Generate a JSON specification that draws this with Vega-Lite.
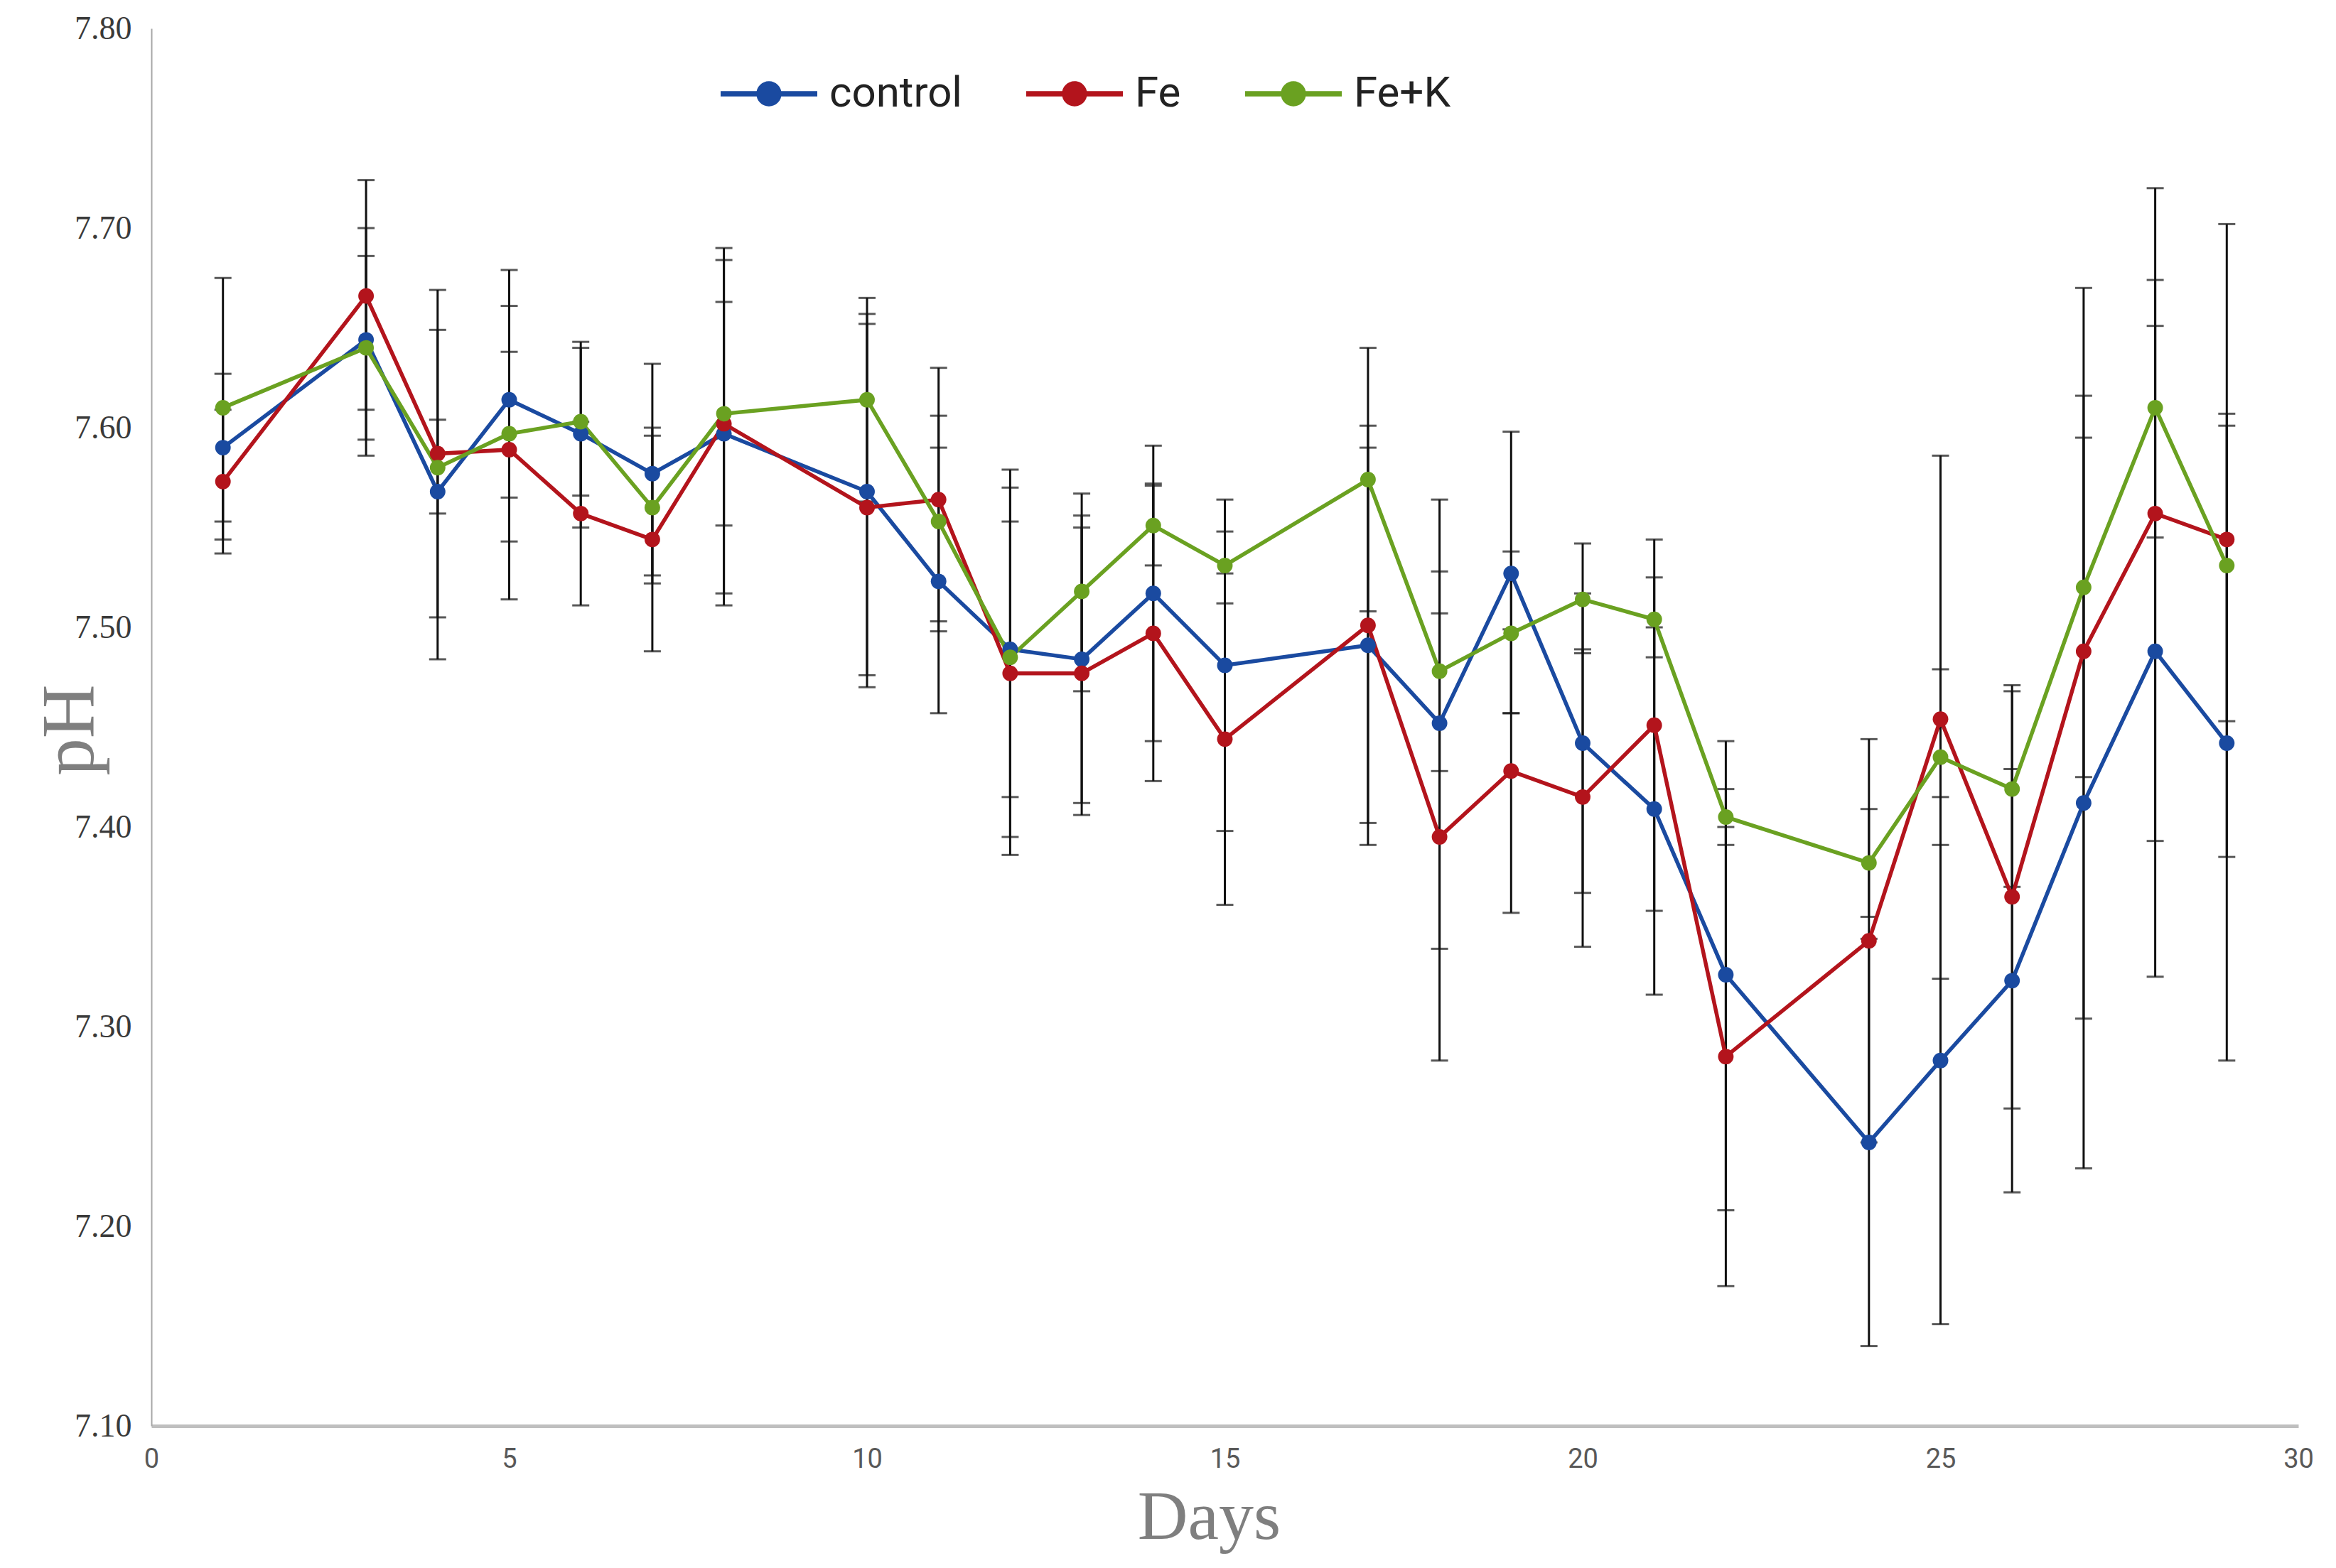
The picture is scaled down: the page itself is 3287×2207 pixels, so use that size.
{
  "$schema": "https://vega.github.io/schema/vega-lite/v6.json",
  "description": "pH over days for control, Fe and Fe+K treatments with error bars.",
  "width": 3021,
  "height": 1967,
  "autosize": {"type": "none"},
  "padding": {"left": 213, "top": 40, "right": 53, "bottom": 200},
  "background": "white",
  "config": {"view": {"stroke": null}},
  "data": {
    "values": [
      {"day": 1, "series": "control", "ph": 7.590, "lo": 7.553, "hi": 7.627},
      {"day": 3, "series": "control", "ph": 7.644, "lo": 7.586, "hi": 7.700},
      {"day": 4, "series": "control", "ph": 7.568, "lo": 7.484, "hi": 7.649},
      {"day": 5, "series": "control", "ph": 7.614, "lo": 7.543, "hi": 7.679},
      {"day": 6, "series": "control", "ph": 7.597, "lo": 7.550, "hi": 7.640},
      {"day": 7, "series": "control", "ph": 7.577, "lo": 7.522, "hi": 7.632},
      {"day": 8, "series": "control", "ph": 7.597, "lo": 7.517, "hi": 7.684},
      {"day": 10, "series": "control", "ph": 7.568, "lo": 7.476, "hi": 7.657},
      {"day": 11, "series": "control", "ph": 7.523, "lo": 7.457, "hi": 7.590},
      {"day": 12, "series": "control", "ph": 7.489, "lo": 7.395, "hi": 7.579},
      {"day": 13, "series": "control", "ph": 7.484, "lo": 7.412, "hi": 7.556},
      {"day": 14, "series": "control", "ph": 7.517, "lo": 7.443, "hi": 7.591},
      {"day": 15, "series": "control", "ph": 7.481, "lo": 7.398, "hi": 7.564},
      {"day": 17, "series": "control", "ph": 7.491, "lo": 7.391, "hi": 7.590},
      {"day": 18, "series": "control", "ph": 7.452, "lo": 7.339, "hi": 7.564},
      {"day": 19, "series": "control", "ph": 7.527, "lo": 7.457, "hi": 7.598},
      {"day": 20, "series": "control", "ph": 7.442, "lo": 7.367, "hi": 7.517},
      {"day": 21, "series": "control", "ph": 7.409, "lo": 7.316, "hi": 7.500},
      {"day": 22, "series": "control", "ph": 7.326, "lo": 7.208, "hi": 7.443},
      {"day": 24, "series": "control", "ph": 7.242, "lo": 7.140, "hi": 7.344},
      {"day": 25, "series": "control", "ph": 7.283, "lo": 7.151, "hi": 7.415},
      {"day": 26, "series": "control", "ph": 7.323, "lo": 7.217, "hi": 7.429},
      {"day": 27, "series": "control", "ph": 7.412, "lo": 7.229, "hi": 7.595},
      {"day": 28, "series": "control", "ph": 7.488, "lo": 7.325, "hi": 7.651},
      {"day": 29, "series": "control", "ph": 7.442, "lo": 7.283, "hi": 7.601},
      {"day": 1, "series": "Fe", "ph": 7.573, "lo": 7.537, "hi": 7.609},
      {"day": 3, "series": "Fe", "ph": 7.666, "lo": 7.609, "hi": 7.724},
      {"day": 4, "series": "Fe", "ph": 7.587, "lo": 7.505, "hi": 7.669},
      {"day": 5, "series": "Fe", "ph": 7.589, "lo": 7.514, "hi": 7.661},
      {"day": 6, "series": "Fe", "ph": 7.557, "lo": 7.511, "hi": 7.603},
      {"day": 7, "series": "Fe", "ph": 7.544, "lo": 7.488, "hi": 7.600},
      {"day": 8, "series": "Fe", "ph": 7.602, "lo": 7.511, "hi": 7.690},
      {"day": 10, "series": "Fe", "ph": 7.560, "lo": 7.470, "hi": 7.652},
      {"day": 11, "series": "Fe", "ph": 7.564, "lo": 7.498, "hi": 7.630},
      {"day": 12, "series": "Fe", "ph": 7.477, "lo": 7.386, "hi": 7.570},
      {"day": 13, "series": "Fe", "ph": 7.477, "lo": 7.406, "hi": 7.550},
      {"day": 14, "series": "Fe", "ph": 7.497, "lo": 7.423, "hi": 7.572},
      {"day": 15, "series": "Fe", "ph": 7.444, "lo": 7.361, "hi": 7.527},
      {"day": 17, "series": "Fe", "ph": 7.501, "lo": 7.402, "hi": 7.601},
      {"day": 18, "series": "Fe", "ph": 7.395, "lo": 7.283, "hi": 7.507},
      {"day": 19, "series": "Fe", "ph": 7.428, "lo": 7.357, "hi": 7.499},
      {"day": 20, "series": "Fe", "ph": 7.415, "lo": 7.340, "hi": 7.489},
      {"day": 21, "series": "Fe", "ph": 7.451, "lo": 7.358, "hi": 7.544},
      {"day": 22, "series": "Fe", "ph": 7.285, "lo": 7.170, "hi": 7.400},
      {"day": 24, "series": "Fe", "ph": 7.343, "lo": 7.242, "hi": 7.444},
      {"day": 25, "series": "Fe", "ph": 7.454, "lo": 7.324, "hi": 7.586},
      {"day": 26, "series": "Fe", "ph": 7.365, "lo": 7.259, "hi": 7.471},
      {"day": 27, "series": "Fe", "ph": 7.488, "lo": 7.304, "hi": 7.670},
      {"day": 28, "series": "Fe", "ph": 7.557, "lo": 7.393, "hi": 7.720},
      {"day": 29, "series": "Fe", "ph": 7.544, "lo": 7.385, "hi": 7.702},
      {"day": 1, "series": "Fe+K", "ph": 7.610, "lo": 7.544, "hi": 7.675},
      {"day": 3, "series": "Fe+K", "ph": 7.640, "lo": 7.594, "hi": 7.686},
      {"day": 4, "series": "Fe+K", "ph": 7.580, "lo": 7.557, "hi": 7.604},
      {"day": 5, "series": "Fe+K", "ph": 7.597, "lo": 7.565, "hi": 7.638},
      {"day": 6, "series": "Fe+K", "ph": 7.603, "lo": 7.566, "hi": 7.643},
      {"day": 7, "series": "Fe+K", "ph": 7.560, "lo": 7.526, "hi": 7.596},
      {"day": 8, "series": "Fe+K", "ph": 7.607, "lo": 7.551, "hi": 7.663},
      {"day": 10, "series": "Fe+K", "ph": 7.614, "lo": 7.563, "hi": 7.665},
      {"day": 11, "series": "Fe+K", "ph": 7.553, "lo": 7.503, "hi": 7.606},
      {"day": 12, "series": "Fe+K", "ph": 7.485, "lo": 7.415, "hi": 7.553},
      {"day": 13, "series": "Fe+K", "ph": 7.518, "lo": 7.468, "hi": 7.567},
      {"day": 14, "series": "Fe+K", "ph": 7.551, "lo": 7.531, "hi": 7.571},
      {"day": 15, "series": "Fe+K", "ph": 7.531, "lo": 7.512, "hi": 7.548},
      {"day": 17, "series": "Fe+K", "ph": 7.574, "lo": 7.508, "hi": 7.640},
      {"day": 18, "series": "Fe+K", "ph": 7.478, "lo": 7.428, "hi": 7.528},
      {"day": 19, "series": "Fe+K", "ph": 7.497, "lo": 7.457, "hi": 7.538},
      {"day": 20, "series": "Fe+K", "ph": 7.514, "lo": 7.487, "hi": 7.542},
      {"day": 21, "series": "Fe+K", "ph": 7.504, "lo": 7.485, "hi": 7.525},
      {"day": 22, "series": "Fe+K", "ph": 7.405, "lo": 7.391, "hi": 7.419},
      {"day": 24, "series": "Fe+K", "ph": 7.382, "lo": 7.355, "hi": 7.409},
      {"day": 25, "series": "Fe+K", "ph": 7.435, "lo": 7.391, "hi": 7.479},
      {"day": 26, "series": "Fe+K", "ph": 7.419, "lo": 7.370, "hi": 7.468},
      {"day": 27, "series": "Fe+K", "ph": 7.520, "lo": 7.425, "hi": 7.616},
      {"day": 28, "series": "Fe+K", "ph": 7.610, "lo": 7.545, "hi": 7.674},
      {"day": 29, "series": "Fe+K", "ph": 7.531, "lo": 7.453, "hi": 7.607}
    ]
  },
  "encoding": {
    "x": {
      "field": "day",
      "type": "quantitative",
      "scale": {"domain": [0, 30], "nice": false},
      "axis": {
        "title": "Days",
        "values": [0, 5, 10, 15, 20, 25, 30],
        "grid": false,
        "ticks": false,
        "domainColor": "#bfbfbf",
        "domainWidth": 5,
        "labelFont": "Roboto",
        "labelFontSize": 38,
        "labelColor": "#595959",
        "labelPadding": 28,
        "labelFlush": false,
        "labelOverlap": false,
        "titleFont": "Liberation Serif",
        "titleFontSize": 98,
        "titleFontWeight": "normal",
        "titleColor": "#7f7f7f",
        "titleBaseline": "alphabetic",
        "titleX": 1488,
        "titleY": 158
      }
    }
  },
  "layer": [
    {
      "mark": {
        "type": "errorbar",
        "color": "#111111",
        "rule": {"strokeWidth": 3},
        "ticks": {"size": 24, "thickness": 3}
      },
      "encoding": {
        "y": {
          "field": "lo",
          "type": "quantitative",
          "title": "pH",
          "scale": {"domain": [7.1, 7.8], "nice": false, "zero": false}
        },
        "y2": {"field": "hi"}
      }
    },
    {
      "mark": {
        "type": "line",
        "strokeWidth": 5.5,
        "point": {"filled": true, "size": 480, "opacity": 1}
      },
      "encoding": {
        "y": {
          "field": "ph",
          "type": "quantitative",
          "title": "pH",
          "scale": {"domain": [7.1, 7.8], "nice": false, "zero": false},
          "axis": {
            "values": [7.1, 7.2, 7.3, 7.4, 7.5, 7.6, 7.7, 7.8],
            "format": ".2f",
            "grid": false,
            "ticks": false,
            "domainColor": "#a6a6a6",
            "domainWidth": 2,
            "labelFont": "Liberation Serif",
            "labelFontSize": 46,
            "labelColor": "#3a3a3a",
            "labelPadding": 28,
            "labelOverlap": false,
            "titleFont": "Liberation Serif",
            "titleFontSize": 105,
            "titleFontWeight": "normal",
            "titleColor": "#7f7f7f",
            "titleAngle": -90,
            "titleAlign": "center",
            "titleBaseline": "alphabetic",
            "titleX": -83,
            "titleY": 987
          }
        },
        "color": {
          "field": "series",
          "type": "nominal",
          "scale": {
            "domain": ["control", "Fe", "Fe+K"],
            "range": ["#1a4aa0", "#b3141c", "#6aa121"]
          },
          "legend": {
            "title": null,
            "orient": "none",
            "direction": "horizontal",
            "legendX": 801,
            "legendY": 24,
            "padding": 0,
            "symbolType": "M-1,-0.055H-0.2V0.055H-1Z M0.2,-0.055H1V0.055H0.2Z M-0.26,0A0.26,0.26 0 1,1 0.26,0A0.26,0.26 0 1,1 -0.26,0Z",
            "symbolSize": 18496,
            "symbolStrokeWidth": 0,
            "labelFont": "Roboto",
            "labelFontSize": 60,
            "labelColor": "#222222",
            "labelOffset": 17,
            "labelLimit": 0,
            "columnPadding": 90,
            "encode": {
              "symbols": {
                "update": {
                  "fill": {"scale": "color", "field": "value"},
                  "fillOpacity": {"value": 1},
                  "strokeWidth": {"value": 0}
                }
              }
            }
          }
        }
      }
    }
  ]
}
